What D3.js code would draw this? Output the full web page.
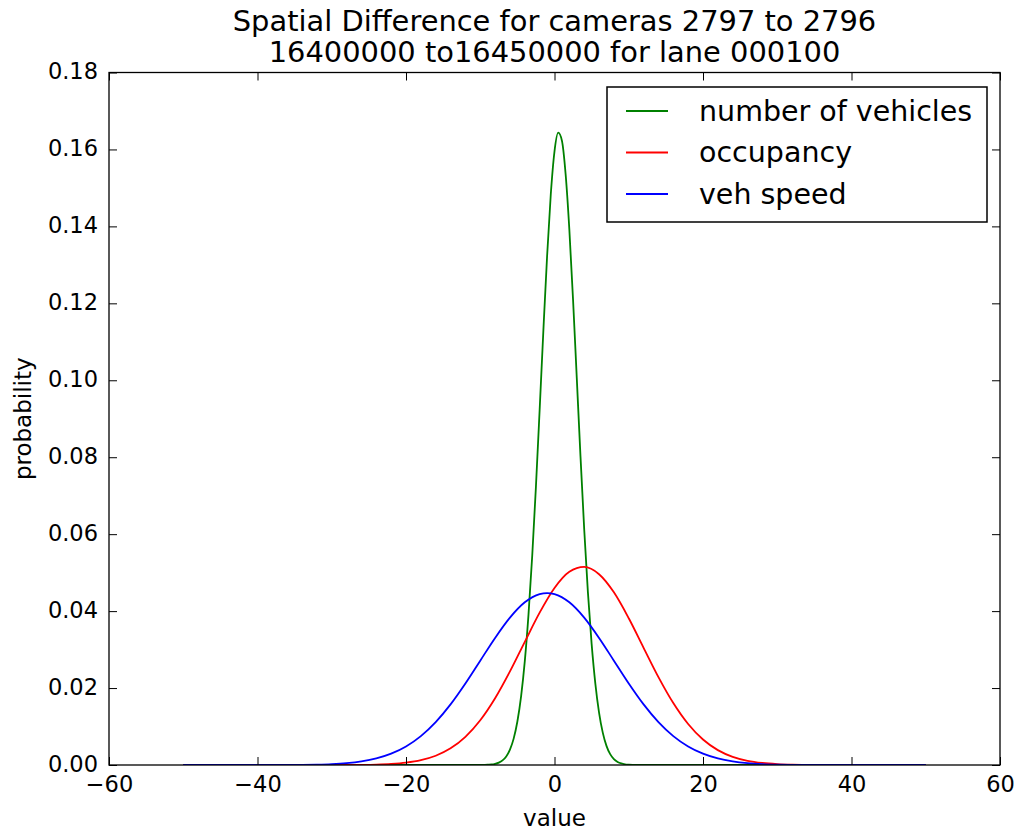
<!DOCTYPE html>
<html>
<head>
<meta charset="utf-8">
<script src="https://cdn.jsdelivr.net/npm/d3@7"></script>
<style>
  html, body { margin: 0; padding: 0; background: #fff; }
  svg { display: block; font-family: "DejaVu Sans", sans-serif; }
</style>
</head>
<body>
<svg id="chart" width="1019" height="834"></svg>
<script>
// ---- data ----
const titleLines = ["Spatial Difference for cameras 2797 to 2796", "16400000 to16450000 for lane 000100"];
const xTicks = [-60, -40, -20, 0, 20, 40, 60];
const yTicks = [0.00, 0.02, 0.04, 0.06, 0.08, 0.10, 0.12, 0.14, 0.16, 0.18];
const seriesNames = ["number of vehicles", "occupancy", "veh speed"];
const seriesColors = ["#008000", "#ff0000", "#0000ff"];

const vehX = [-50, -10, -9, -8.5, -8, -7.5, -7, -6.5, -6, -5.5, -5, -4.5, -4, -3.5, -3, -2.5, -2, -1.5, -1, -0.5, 0, 0.5, 1, 1.5, 2, 2.5, 3, 3.5, 4, 4.5, 5, 5.5, 6, 6.5, 7, 7.5, 8, 8.5, 9, 9.5, 10, 11, 50];
const vehY = [0, 0, 0.0001, 0.00014, 0.0003, 0.00061, 0.00119, 0.00222, 0.00399, 0.00686, 0.0113, 0.01785, 0.027, 0.03915, 0.05438, 0.0724, 0.09235, 0.11288, 0.13219, 0.14835, 0.15952, 0.16436, 0.16227, 0.15351, 0.13915, 0.12086, 0.10059, 0.08023, 0.06129, 0.04488, 0.03149, 0.02117, 0.01364, 0.00842, 0.00498, 0.00282, 0.00153, 0.0008, 0.0004, 0.00019, 0.00009, 0, 0];

const occX = [-50, -32, -30, -28, -26, -24, -22, -20, -18, -16, -14, -12, -10, -8, -6, -4, -2, 0, 2, 4, 6, 8, 10, 12, 14, 16, 18, 20, 22, 24, 26, 28, 30, 32, 34, 36, 38, 50];
const occY = [0, 0, 0.00001, 0.000019, 0.00005, 0.000123, 0.000284, 0.000617, 0.001257, 0.002408, 0.004334, 0.007329, 0.011634, 0.017356, 0.024318, 0.032018, 0.039598, 0.046005, 0.050213, 0.051484, 0.049589, 0.044872, 0.038141, 0.030457, 0.022845, 0.016099, 0.010655, 0.006628, 0.003871, 0.002125, 0.001095, 0.00053, 0.000241, 0.000103, 0.000041, 0.000016, 0, 0];

const spdX = [-50, -38, -36, -34, -32, -30, -28, -26, -24, -22, -20, -18, -16, -14, -12, -10, -8, -6, -4, -2, -1, 0, 2, 4, 6, 8, 10, 12, 14, 16, 18, 20, 22, 24, 26, 28, 30, 32, 34, 36, 50];
const spdY = [0, 0, 0.000023, 0.000054, 0.000119, 0.000249, 0.000497, 0.000944, 0.001707, 0.002938, 0.004814, 0.00751, 0.011148, 0.015748, 0.021179, 0.027111, 0.033033, 0.038308, 0.042286, 0.044425, 0.0447, 0.044425, 0.042286, 0.038308, 0.033033, 0.027111, 0.021179, 0.015748, 0.011148, 0.00751, 0.004814, 0.002938, 0.001707, 0.000944, 0.000497, 0.000249, 0.000119, 0.000054, 0.000023, 0, 0];

const xLabel = "value";
const yLabel = "probability";

// ---- layout ----
const svg = d3.select("#chart");
const m = { left: 109, right: 1000, top: 72.5, bottom: 765 };

const x = d3.scaleLinear().domain([-60, 60]).range([m.left, m.right]);
const y = d3.scaleLinear().domain([0, 0.18]).range([m.bottom, m.top]);

const minus = s => s.replace("-", "\u2212");

// clip
svg.append("defs").append("clipPath").attr("id", "clip")
  .append("rect").attr("x", m.left).attr("y", m.top)
  .attr("width", m.right - m.left).attr("height", m.bottom - m.top);

// series
const series = [
  { name: seriesNames[0], color: seriesColors[0], xs: vehX, ys: vehY },
  { name: seriesNames[1], color: seriesColors[1], xs: occX, ys: occY },
  { name: seriesNames[2], color: seriesColors[2], xs: spdX, ys: spdY }
];
const line = d3.line().x(d => x(d[0])).y(d => y(d[1])).curve(d3.curveMonotoneX);
const g = svg.append("g").attr("clip-path", "url(#clip)");
series.forEach(s => {
  g.append("path")
    .datum(s.xs.map((v, i) => [v, s.ys[i]]))
    .attr("fill", "none")
    .attr("stroke", s.color)
    .attr("stroke-width", 1.8)
    .attr("stroke-linejoin", "round")
    .attr("d", line);
});

// axes (ticks inside, all four sides)
const tickLen = 8;
const fmtY = d3.format(".2f");
const axB = svg.append("g").attr("transform", `translate(0,${m.bottom})`)
  .call(d3.axisBottom(x).tickValues(xTicks).tickSize(-tickLen).tickPadding(11).tickFormat(d => minus(String(d))));
const axT = svg.append("g").attr("transform", `translate(0,${m.top})`)
  .call(d3.axisTop(x).tickValues(xTicks).tickSize(-tickLen).tickFormat(""));
const axL = svg.append("g").attr("transform", `translate(${m.left},0)`)
  .call(d3.axisLeft(y).tickValues(yTicks).tickSize(-tickLen).tickPadding(11).tickFormat(fmtY));
const axR = svg.append("g").attr("transform", `translate(${m.right},0)`)
  .call(d3.axisRight(y).tickValues(yTicks).tickSize(-tickLen).tickFormat(""));
[axB, axT, axL, axR].forEach(a => {
  a.select(".domain").remove();
  a.selectAll(".tick line").attr("stroke", "#000").attr("stroke-width", 1);
  a.selectAll(".tick text").attr("fill", "#000").style("font-size", "22.5px").style("font-family", "'DejaVu Sans', sans-serif");
});
axL.selectAll(".tick text").attr("dy", "0.28em");

// frame
svg.append("rect").attr("x", m.left).attr("y", m.top)
  .attr("width", m.right - m.left).attr("height", m.bottom - m.top)
  .attr("fill", "none").attr("stroke", "#000").attr("stroke-width", 1.3);

// axis labels
svg.append("text").attr("x", (m.left + m.right) / 2).attr("y", 826)
  .attr("text-anchor", "middle").style("font-size", "23px").text(xLabel);
svg.append("text").attr("transform", `translate(31,${(m.top + m.bottom) / 2}) rotate(-90)`)
  .attr("text-anchor", "middle").style("font-size", "23px").text(yLabel);

// title
titleLines.forEach((t, i) => {
  svg.append("text").attr("x", (m.left + m.right) / 2).attr("y", 31 + i * 31)
    .attr("text-anchor", "middle").style("font-size", "28.9px").text(t);
});

// legend
const lg = svg.append("g");
lg.append("rect").attr("x", 607).attr("y", 87).attr("width", 380).attr("height", 135)
  .attr("fill", "#fff").attr("stroke", "#000").attr("stroke-width", 1.5);
series.forEach((s, i) => {
  const ly = 111 + i * 41.5;
  lg.append("line").attr("x1", 626).attr("x2", 668).attr("y1", ly).attr("y2", ly)
    .attr("stroke", s.color).attr("stroke-width", 1.8);
  lg.append("text").attr("x", 699).attr("y", ly).attr("dy", "0.35em")
    .style("font-size", "28.5px").text(s.name);
});
</script>
</body>
</html>
